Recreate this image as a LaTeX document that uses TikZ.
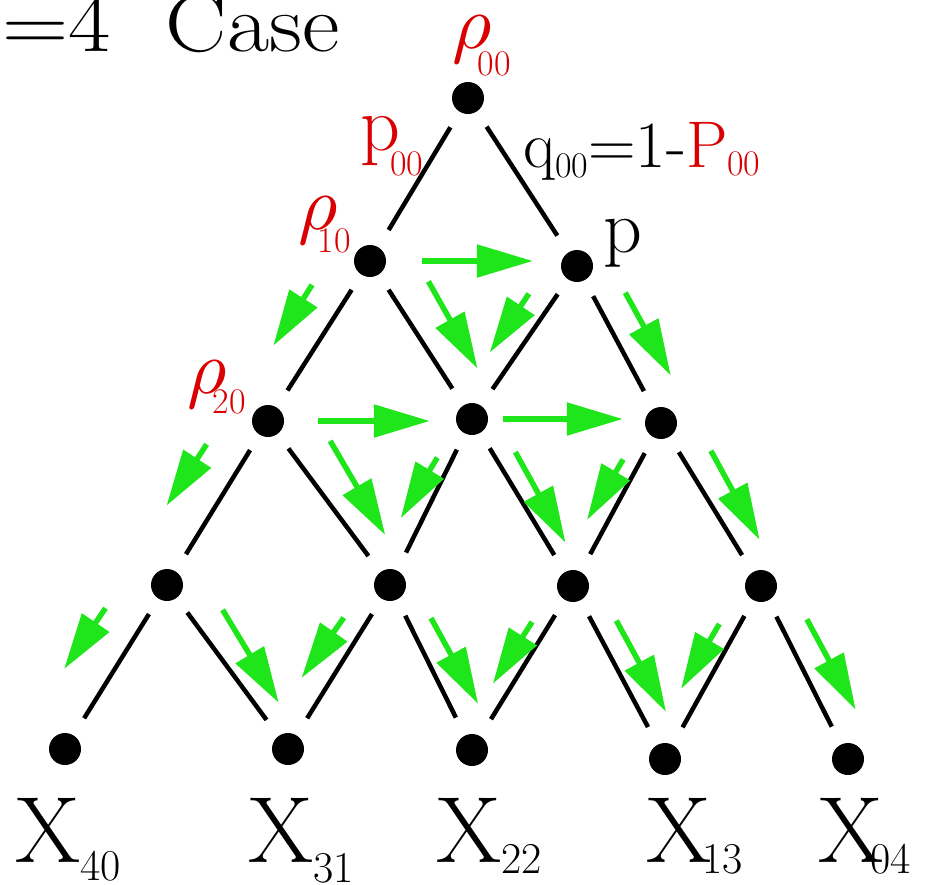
\documentclass[tikz,border=0pt]{standalone}
\usepackage{fontspec}
\usetikzlibrary{arrows.meta,calc}
\definecolor{labred}{HTML}{D80000}
\definecolor{flowgreen}{HTML}{1FE61A}
\tikzset{
  dot/.style={circle, fill=black, minimum size=32pt, inner sep=0pt},
  edge/.style={line width=4.5pt, shorten >=20pt, shorten <=18pt},
  flow/.style={draw=flowgreen, line width=5.5pt, -{Triangle[length=56pt,width=32pt]}},
  lbl/.style={inner sep=0pt, anchor=base west},
}
\newcommand{\fsz}[1]{\fontsize{#1}{#1}\selectfont}
\newcommand{\lowsub}[3][36]{\raisebox{-#2}{\fsz{#1}#3}}
\newcommand{\bigrho}{\scalebox{7.6}{$\rho$}}
% green flow arrows beside a lattice edge: down-left / down-right
\newcommand{\flowL}[4]{\draw[flow] ($(#1)!.27!(#2)!#3!-90:(#2)$) -- ($(#1)!.65!(#2)!#4!-90:(#2)$);}
\newcommand{\flowR}[4]{\draw[flow] ($(#1)!.26!(#2)!#3!90:(#2)$) -- ($(#1)!.79!(#2)!#4!90:(#2)$);}

\begin{document}
\begin{tikzpicture}[x=1pt, y=1pt]
  \useasboundingbox (0,0) rectangle (925,-884);

  % lattice points
  \node[dot] (n00) at (468,-98) {};
  \node[dot] (n10) at (370,-261) {};
  \node[dot] (n11) at (577,-266) {};
  \node[dot] (n20) at (268,-421) {};
  \node[dot] (n21) at (472,-419) {};
  \node[dot] (n22) at (661,-423) {};
  \node[dot] (n30) at (167,-585) {};
  \node[dot] (n31) at (390,-585) {};
  \node[dot] (n32) at (573,-586) {};
  \node[dot] (n33) at (761,-586) {};
  \node[dot] (n40) at (65,-749) {};
  \node[dot] (n41) at (288,-749) {};
  \node[dot] (n42) at (472,-750) {};
  \node[dot] (n43) at (665,-759) {};
  \node[dot] (n44) at (848,-759) {};

  % black edges
  \foreach \a/\b in {n00/n10, n00/n11, n10/n20, n10/n21, n11/n21, n11/n22,
      n20/n30, n20/n31, n21/n31, n21/n32, n22/n32, n22/n33,
      n30/n40, n30/n41, n31/n41, n31/n42, n32/n42, n32/n43, n33/n43, n33/n44}
    \draw[edge] (\a) -- (\b);

  % green arrows
  \draw[flow, shorten <=36pt, shorten >=28pt] (n10.east) -- (n10.east -| n11.west);
  \draw[flow, shorten <=34pt, shorten >=26pt] (n20.east) -- (n20.east -| n21.west);
  \draw[flow, shorten <=15pt, shorten >=22pt] (n21.east) -- (n21.east -| n22.west);
  \flowL{n10}{n20}{36pt}{36pt}
  \flowL{n11}{n21}{24pt}{23pt}
  \flowL{n20}{n30}{40pt}{42pt}
  \flowL{n21}{n31}{14pt}{20pt}
  \flowL{n22}{n32}{16pt}{19pt}
  \flowL{n30}{n40}{40pt}{43pt}
  \flowL{n31}{n41}{22pt}{26pt}
  \flowL{n32}{n42}{16pt}{17pt}
  \flowL{n33}{n43}{18pt}{20pt}
  \flowR{n10}{n21}{38pt}{32pt}
  \flowR{n11}{n22}{30pt}{31pt}
  \flowR{n20}{n31}{38pt}{26pt}
  \flowR{n21}{n32}{20pt}{16pt}
  \flowR{n22}{n33}{28pt}{23pt}
  \flowR{n30}{n41}{30pt}{20pt}
  \flowR{n31}{n42}{22pt}{26pt}
  \flowR{n32}{n43}{22pt}{23pt}
  \flowR{n33}{n44}{26pt}{29pt}

  % labels
  \node[lbl] (title) at (2,-51) {\fsz{82}\scalebox{1.12}[1]{=4\ \ Case}};
  \node[lbl, text=labred] (r00) at (452,-48) {\bigrho\kern-14pt\lowsub{27pt}{00}};
  \node[lbl, text=labred] (p00) at (360,-150) {\fsz{78}p\kern-10pt\lowsub{25pt}{00}};
  \node[lbl] (q00) at (523,-167) {\fsz{66}q\lowsub{10pt}{00}=1-\textcolor{labred}{P\lowsub{8pt}{00}}};
  \node[lbl, text=labred] (r10) at (298,-229) {\bigrho\kern-20pt\lowsub{23pt}{10}};
  \node[lbl] (plab) at (603,-252) {\fsz{76}p};
  \node[lbl, text=labred] (r20) at (187,-393) {\bigrho\kern-14pt\lowsub{20pt}{20}};
  \node[lbl] (x40) at (15,-862) {\fsz{94}X\lowsub[44]{18pt}{40}};
  \node[lbl] (x31) at (248,-862) {\fsz{94}X\lowsub[44]{20pt}{31}};
  \node[lbl] (x22) at (436,-862) {\fsz{94}X\lowsub[44]{11pt}{22}};
  \node[lbl] (x13) at (646,-862) {\fsz{94}X\kern-9pt\lowsub[44]{11pt}{13}};
  \node[lbl] (x04) at (818,-862) {\fsz{94}X\kern-13pt\lowsub[44]{11pt}{04}};
\end{tikzpicture}
\end{document}
